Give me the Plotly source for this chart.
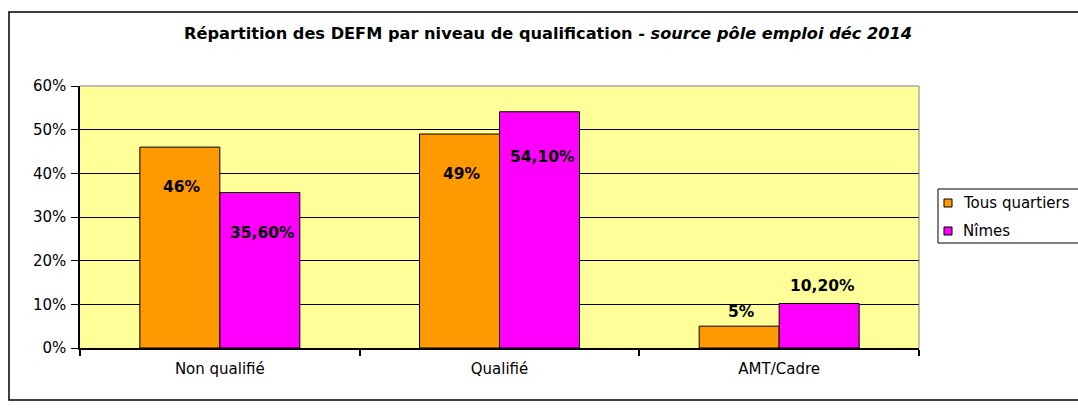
import plotly.graph_objects as go

categories = ["Non qualifié", "Qualifié", "AMT/Cadre"]
series_names = ["Tous quartiers", "Nîmes"]
series_colors = ["#FF9900", "#FF00FF"]
tous_quartiers = [46, 49, 5]
nimes = [35.6, 54.1, 10.2]
tous_labels = ["46%", "49%", "5%"]
nimes_labels = ["35,60%", "54,10%", "10,20%"]
y_ticks = [0, 10, 20, 30, 40, 50, 60]
y_tick_labels = ["0%", "10%", "20%", "30%", "40%", "50%", "60%"]

# label vertical offsets in px (negative = below bar top)
tous_offsets = [-40, -40, 14]
nimes_offsets = [-40, -45, 17]

W, H = 1078, 408
L, R, T, B = 80, 159, 86, 60
pw, ph = W - L - R, H - T - B

SANS = "DejaVu Sans, Verdana, sans-serif"

fig = go.Figure()
fig.add_trace(go.Bar(x=categories, y=tous_quartiers, name=series_names[0],
                     marker=dict(color=series_colors[0], line=dict(color="#000000", width=1))))
fig.add_trace(go.Bar(x=categories, y=nimes, name=series_names[1],
                     marker=dict(color=series_colors[1], line=dict(color="#000000", width=1))))

annotations = []
for cat, v, lab, off in zip(categories, tous_quartiers, tous_labels, tous_offsets):
    annotations.append(dict(x=cat, y=v, text="<b>" + lab + "</b>", showarrow=False,
                            xref="x", yref="y", xshift=-38, yshift=off,
                            font=dict(family=SANS, size=15.5, color="#000")))
for cat, v, lab, off in zip(categories, nimes, nimes_labels, nimes_offsets):
    annotations.append(dict(x=cat, y=v, text="<b>" + lab + "</b>", showarrow=False,
                            xref="x", yref="y", xshift=43, yshift=off,
                            font=dict(family=SANS, size=15.5, color="#000")))

px_x = lambda p: (p - L) / pw
px_y = lambda p: (H - B - p) / ph

shapes = [
    # outer chart border
    dict(type="rect", xref="paper", yref="paper",
         x0=px_x(9), x1=px_x(1090), y0=px_y(400), y1=px_y(12),
         line=dict(color="#000000", width=1.5), layer="below"),
    # top and right border of plot area (gray)
    dict(type="line", xref="paper", yref="paper", x0=0, x1=1, y0=1, y1=1,
         line=dict(color="#808080", width=1)),
    dict(type="line", xref="paper", yref="paper", x0=1, x1=1, y0=0, y1=1,
         line=dict(color="#808080", width=1)),
    # legend box
    dict(type="rect", xref="paper", yref="paper",
         x0=px_x(938), x1=px_x(1095), y0=px_y(243), y1=px_y(189),
         line=dict(color="#000000", width=1), fillcolor="#FFFFFF"),
]

# legend entries (manual, to match reference layout)
legend_rows_y = [203, 231]
for name, col, yy in zip(series_names, series_colors, legend_rows_y):
    shapes.append(dict(type="rect", xref="paper", yref="paper",
                       x0=px_x(944), x1=px_x(952), y0=px_y(yy + 4), y1=px_y(yy - 4),
                       fillcolor=col, line=dict(color="#000000", width=1)))
    annotations.append(dict(x=px_x(961), y=px_y(yy), xref="paper", yref="paper",
                            xanchor="left", yanchor="middle", text=name, showarrow=False,
                            font=dict(family=SANS, size=15, color="#000")))

fig.update_layout(
    width=W, height=H,
    margin=dict(l=L, r=R, t=T, b=B, autoexpand=False),
    paper_bgcolor="#FFFFFF",
    plot_bgcolor="#FFFF99",
    barmode="group",
    bargap=0.428,
    bargroupgap=0,
    showlegend=False,
    font=dict(family=SANS, size=15, color="#000"),
    title=dict(text="<b>Répartition des DEFM par niveau de qualification - <i>source pôle emploi déc 2014</i></b>",
               x=548 / W, xanchor="center", y=1 - 33 / H, yanchor="middle",
               font=dict(family=SANS, size=16.2, color="#000")),
    xaxis=dict(showline=True, linecolor="#000", linewidth=1.5,
               ticks="outside", ticklen=6, tickcolor="#000", tickwidth=1.5,
               tickson="boundaries", showgrid=False,
               tickfont=dict(family=SANS, size=15), ticklabelstandoff=6),
    yaxis=dict(range=[0, 60], tickvals=y_ticks, ticktext=y_tick_labels,
               showline=True, linecolor="#000", linewidth=1.5,
               ticks="outside", ticklen=7, tickcolor="#000",
               showgrid=True, gridcolor="#000", gridwidth=1,
               zeroline=False, tickfont=dict(family=SANS, size=15),
               ticklabelstandoff=2),
    annotations=annotations,
    shapes=shapes,
)

fig.write_html("out.html", config={"displayModeBar": False},
               post_script="document.body.style.margin='0';document.body.style.overflow='hidden';")
